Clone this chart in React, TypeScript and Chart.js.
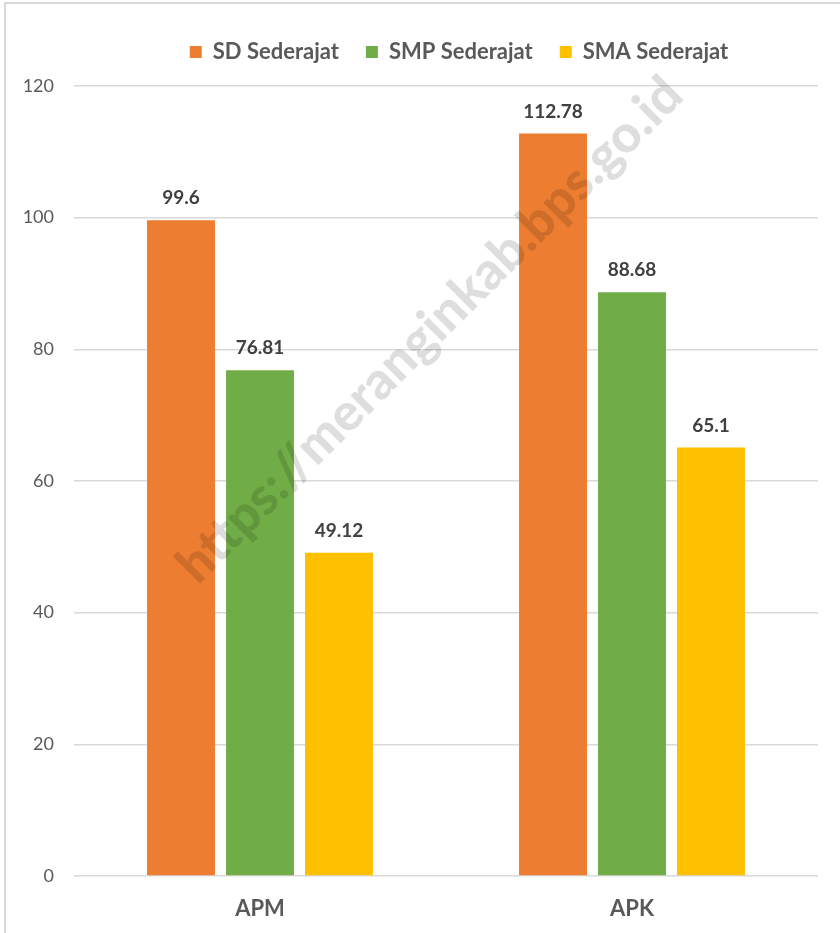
import React, { useEffect, useRef } from "react";
import { Chart, registerables } from "chart.js";

Chart.register(...registerables);

const categories = ["APM", "APK"];
const seriesNames = ["SD Sederajat", "SMP Sederajat", "SMA Sederajat"];
const sdValues = [99.6, 112.78];
const smpValues = [76.81, 88.68];
const smaValues = [49.12, 65.1];
const yMin = 0;
const yMax = 120;
const yStep = 20;
const seriesColors = ["#ED7D31", "#70AD47", "#FFC000"];
const watermarkText = "https://meranginkab.bps.go.id";

const FONT = "Lato, 'Open Sans', 'Liberation Sans', sans-serif";

export default function App() {
  const ref = useRef<HTMLCanvasElement>(null);

  useEffect(() => {
    const canvas = ref.current;
    if (!canvas) return;

    const legendFit = {
      id: "legendFit",
      beforeInit(chart: any) {
        const leg = chart.legend;
        if (!leg) return;
        const orig = leg.fit;
        leg.fit = function () {
          orig.call(this);
          this.height = 72;
        };
      },
      afterLayout(chart: any) {
        const leg = chart.legend;
        if (!leg) return;
        leg.left += 50;
        leg.right += 50;
      },
    };

    const overlay = {
      id: "overlay",
      afterDatasetsDraw(chart: any) {
        const ctx = chart.ctx;
        // watermark
        ctx.save();
        ctx.font = `900 40px ${FONT}`;
        const w = ctx.measureText(watermarkText).width;
        const size = (40 * 690) / w;
        ctx.font = `900 ${size}px ${FONT}`;
        ctx.translate(430, 330);
        ctx.rotate(-Math.PI / 4);
        ctx.textAlign = "center";
        ctx.textBaseline = "middle";
        ctx.fillStyle = "rgba(0,0,0,0.13)";
        ctx.fillText(watermarkText, 0, 0);
        ctx.restore();

        // data labels
        ctx.save();
        ctx.font = `bold 19px ${FONT}`;
        ctx.fillStyle = "#404040";
        ctx.textAlign = "center";
        ctx.textBaseline = "middle";
        chart.data.datasets.forEach((ds: any, di: number) => {
          const meta = chart.getDatasetMeta(di);
          meta.data.forEach((bar: any, i: number) => {
            ctx.fillText(String(ds.data[i]), bar.x, bar.y - 22);
          });
        });
        ctx.restore();
      },
    };

    const chart = new Chart(canvas, {
      type: "bar",
      data: {
        labels: categories,
        datasets: [
          { label: seriesNames[0], data: sdValues, backgroundColor: seriesColors[0] },
          { label: seriesNames[1], data: smpValues, backgroundColor: seriesColors[1] },
          { label: seriesNames[2], data: smaValues, backgroundColor: seriesColors[2] },
        ],
      },
      options: {
        responsive: false,
        animation: false,
        layout: { padding: { top: 14, left: 0, right: 22, bottom: 0 } },
        datasets: {
          bar: { categoryPercentage: 0.637, barPercentage: 0.86 },
        },
        plugins: {
          legend: {
            position: "top",
            labels: {
              boxWidth: 12,
              boxHeight: 12,
              padding: 27,
              color: "#595959",
              font: { family: FONT, size: 22, weight: "bold" },
            },
          },
          tooltip: { enabled: false },
        },
        scales: {
          x: {
            grid: { display: false, drawTicks: false },
            border: { display: false },
            ticks: {
              color: "#595959",
              padding: 20,
              font: { family: FONT, size: 22, weight: "bold" },
            },
            afterFit(axis: any) {
              axis.height = 57;
            },
          },
          y: {
            min: yMin,
            max: yMax,
            ticks: {
              stepSize: yStep,
              color: "#595959",
              padding: 20,
              font: { family: FONT, size: 18 },
            },
            grid: { color: "#d9d9d9", lineWidth: 1.5, drawTicks: false },
            border: { display: false },
            afterFit(axis: any) {
              axis.width = 74;
            },
          },
        },
      },
      plugins: [legendFit, overlay],
    } as any);

    return () => chart.destroy();
  }, []);

  return (
    <div
      style={{
        position: "absolute",
        left: 0,
        top: 0,
        width: 840,
        height: 933,
        overflow: "hidden",
        background: "#ffffff",
      }}
    >
      <div
        style={{
          position: "absolute",
          left: 4,
          top: 2,
          width: 900,
          height: 1000,
          border: "2px solid #d9d9d9",
        }}
      />
      <canvas
        ref={ref}
        width={840}
        height={933}
        style={{ position: "absolute", left: 0, top: 0, width: 840, height: 933 }}
      />
    </div>
  );
}
